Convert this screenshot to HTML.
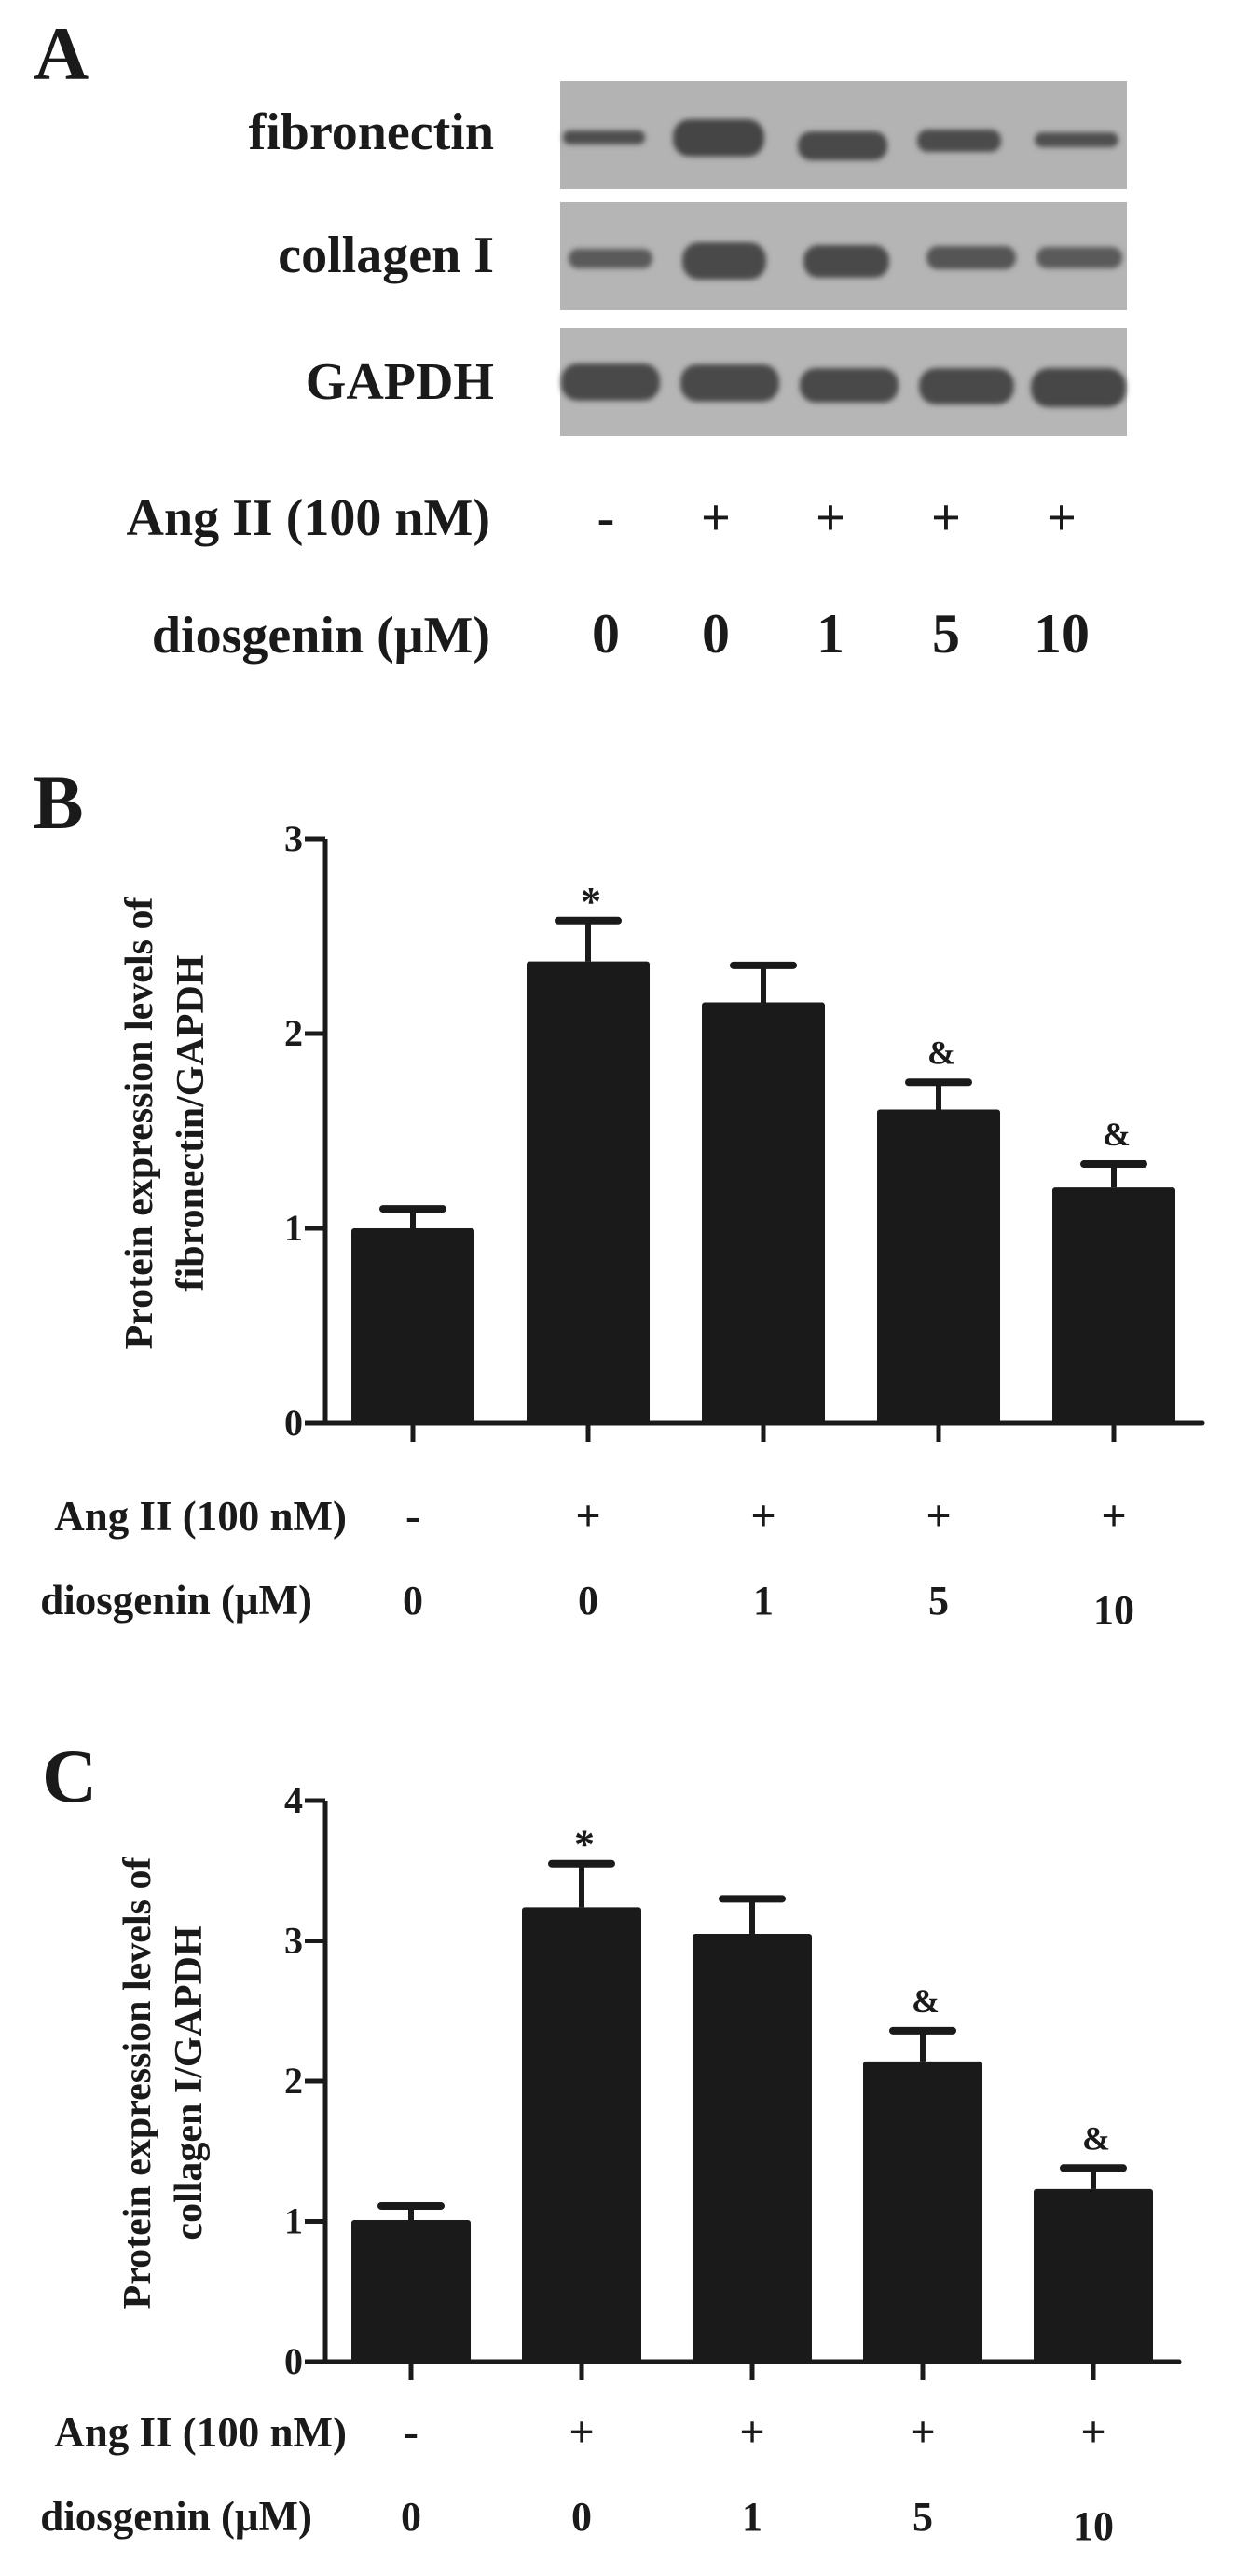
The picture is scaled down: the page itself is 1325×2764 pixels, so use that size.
<!DOCTYPE html>
<html><head><meta charset="utf-8"><style>
html,body{margin:0;padding:0;background:#fff}
svg{display:block}
text{font-family:"Liberation Serif",serif;font-weight:bold;fill:#1a1a1a}
</style></head><body>
<svg id="fig" width="1325" height="2764" viewBox="0 0 1325 2764" xmlns="http://www.w3.org/2000/svg">
<defs><filter id="blur" x="-20%" y="-50%" width="140%" height="200%"><feGaussianBlur stdDeviation="3"/></filter></defs>
<text x="36" y="85" font-size="82">A</text>
<g>
<text x="530" y="160" font-size="56" text-anchor="end">fibronectin</text>
<text x="530" y="292" font-size="56" text-anchor="end">collagen I</text>
<text x="530" y="428" font-size="56" text-anchor="end">GAPDH</text>
<rect x="601" y="87" width="608" height="116" fill="#b3b3b3"/>
<rect x="601" y="217" width="608" height="116" fill="#b5b5b5"/>
<rect x="601" y="352" width="608" height="116" fill="#b6b6b6"/>
<g filter="url(#blur)">
<rect x="604" y="140" width="88" height="15" rx="7" fill="#4e4e4e"/>
<rect x="722" y="128" width="98" height="40" rx="18" fill="#454545"/>
<rect x="856" y="141" width="96" height="31" rx="14" fill="#484848"/>
<rect x="984" y="139" width="90" height="24" rx="11" fill="#4c4c4c"/>
<rect x="1110" y="142" width="90" height="16" rx="8" fill="#505050"/>
<rect x="610" y="267" width="90" height="21" rx="10" fill="#5a5a5a"/>
<rect x="732" y="260" width="90" height="40" rx="18" fill="#484848"/>
<rect x="862" y="263" width="92" height="35" rx="16" fill="#4a4a4a"/>
<rect x="994" y="264" width="96" height="25" rx="12" fill="#555555"/>
<rect x="1112" y="265" width="92" height="23" rx="11" fill="#5a5a5a"/>
<rect x="602" y="390" width="106" height="40" rx="18" fill="#4a4a4a"/>
<rect x="730" y="391" width="106" height="40" rx="18" fill="#4a4a4a"/>
<rect x="858" y="395" width="106" height="37" rx="17" fill="#4a4a4a"/>
<rect x="986" y="395" width="102" height="39" rx="18" fill="#4a4a4a"/>
<rect x="1106" y="395" width="102" height="42" rx="19" fill="#474747"/>
</g>
</g>
<g>
<text x="526" y="574" font-size="56" text-anchor="end">Ang II (100 nM)</text>
<text x="526" y="700" font-size="56" text-anchor="end">diosgenin  (μM)</text>
<g id="condA"></g>
</g>
<text x="35" y="888" font-size="82">B</text>
<g id="chartB"></g>
<text x="45" y="1933" font-size="82">C</text>
<g id="chartC"></g>
</svg>
<script>
const angLabels = ["-", "+", "+", "+", "+"];
const diosLabels = ["0", "0", "1", "5", "10"];
const fibMeans = [1.00, 2.37, 2.16, 1.61, 1.21];
const fibErrTops = [1.10, 2.58, 2.35, 1.75, 1.33];
const fibMarks = ["", "*", "", "&", "&"];
const fibTicks = [0, 1, 2, 3];
const colMeans = [1.01, 3.24, 3.05, 2.14, 1.23];
const colErrTops = [1.11, 3.55, 3.30, 2.36, 1.38];
const colMarks = ["", "*", "", "&", "&"];
const colTicks = [0, 1, 2, 3, 4];

const NS = "http://www.w3.org/2000/svg";
function mk(parent, tag, attrs, txt) {
  const e = document.createElementNS(NS, tag);
  for (const k in attrs) e.setAttribute(k, attrs[k]);
  if (txt !== undefined) e.textContent = txt;
  parent.appendChild(e);
  return e;
}

(function () {
  const g = document.getElementById("condA");
  const xs = [650, 768, 891, 1015, 1139];
  angLabels.forEach((s, i) => {
    const t = mk(g, "text", { x: xs[i], y: 574, "font-size": 56, "text-anchor": "middle", "font-weight": "normal" }, s);
    
    
  });
  diosLabels.forEach((s, i) => {
    const t = mk(g, "text", { x: xs[i], y: 700, "font-size": 60, "text-anchor": "middle" }, s);
    
    
  });
})();

function drawChart(gid, cfg, means, errs, marks, ticks) {
  const g = document.getElementById(gid);
  const yScale = v => cfg.y0 - v * cfg.unit;
  const xScale = i => cfg.x0 + i * cfg.step;
  const ymax = ticks[ticks.length - 1];
  const ax = mk(g, "line", { x1: cfg.ax, y1: yScale(ymax), x2: cfg.ax, y2: cfg.y0, stroke: "#1a1a1a", "stroke-width": 5 });
  
  
  const xa = mk(g, "line", { x1: cfg.ax - 2, y1: cfg.y0, x2: cfg.xend, y2: cfg.y0, stroke: "#1a1a1a", "stroke-width": 5, "stroke-linecap": "round" });
  
  
  ticks.forEach(t => {
    const y = yScale(t);
    const tk = mk(g, "line", { x1: cfg.ax - 22, y1: y, x2: cfg.ax, y2: y, stroke: "#1a1a1a", "stroke-width": 5 });
    
    
    const tl = mk(g, "text", { x: cfg.ax - 24, y: y + 13, "font-size": 40, "text-anchor": "end" }, String(t));
    
    
  });
  means.forEach((v, i) => {
    const cx = xScale(i);
    const eb = mk(g, "line", { x1: cx, y1: yScale(errs[i]), x2: cx, y2: yScale(v), stroke: "#1a1a1a", "stroke-width": 6 });
    
    
    const cap = mk(g, "line", { x1: cx - 32, y1: yScale(errs[i]), x2: cx + 32, y2: yScale(errs[i]), stroke: "#1a1a1a", "stroke-width": 8, "stroke-linecap": "round" });
    
    
    const b = mk(g, "rect", { x: cx - cfg.bw / 2, y: yScale(v), width: cfg.bw, height: cfg.y0 - yScale(v), rx: 3, fill: "#1a1a1a" });
    
    
    const xt = mk(g, "line", { x1: cx, y1: cfg.y0, x2: cx, y2: cfg.y0 + 20, stroke: "#1a1a1a", "stroke-width": 5 });
    
    
    if (marks[i]) {
      const m = mk(g, "text", { x: cx + 3, y: yScale(errs[i]) - (marks[i] === "*" ? 6 : 20), "font-size": marks[i] === "*" ? 44 : 36, "text-anchor": "middle" }, marks[i]);
      
      
    }
    const a = mk(g, "text", { x: cx, y: cfg.angY, "font-size": 48, "text-anchor": "middle", "font-weight": "normal" }, angLabels[i]);
    
    
    const d = mk(g, "text", { x: cx, y: cfg.dioY + (diosLabels[i] === "10" ? 10 : 0), "font-size": 44, "text-anchor": "middle" }, diosLabels[i]);
    
    
  });
  const al = mk(g, "text", { x: 372, y: cfg.angY, "font-size": 45, "text-anchor": "end" }, "Ang II (100 nM)");
  
  
  const dl = mk(g, "text", { x: 335, y: cfg.dioY, "font-size": 45, "text-anchor": "end" }, "diosgenin  (μM)");
  
  
  const yl = mk(g, "text", { transform: "translate(" + cfg.ylx + "," + cfg.ylc + ") rotate(-90)", "font-size": 42, "text-anchor": "middle" });
  
  
  mk(yl, "tspan", { x: 0, y: 0 }, "Protein expression levels of");
  mk(yl, "tspan", { x: 0, y: 55 }, cfg.ytitle2);
}

drawChart("chartB", { y0: 1527, unit: 209, x0: 443, step: 188, bw: 132, ax: 349, xend: 1290, angY: 1642, dioY: 1732, ylx: 163, ylc: 1205, ytitle2: "fibronectin/GAPDH" }, fibMeans, fibErrTops, fibMarks, fibTicks);
drawChart("chartC", { y0: 2534, unit: 150.5, x0: 441, step: 183, bw: 128, ax: 349, xend: 1265, angY: 2625, dioY: 2715, ylx: 161, ylc: 2235, ytitle2: "collagen I/GAPDH" }, colMeans, colErrTops, colMarks, colTicks);
</script>
</body></html>
